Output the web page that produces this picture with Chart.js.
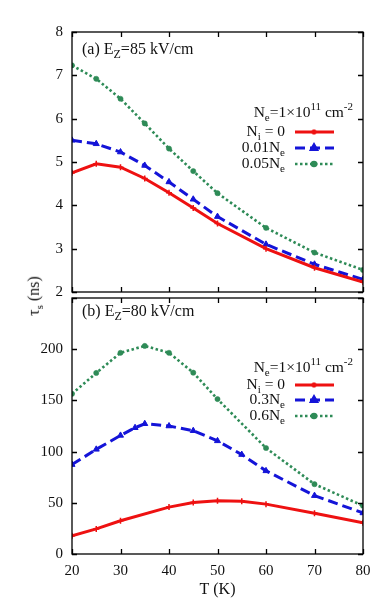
<!DOCTYPE html>
<html>
<head>
<meta charset="utf-8">
<script src="https://cdn.jsdelivr.net/npm/chart.js@4.4.1/dist/chart.umd.min.js"></script>
<style>
body { margin: 0; background: #fff; width: 382px; height: 614px; position: relative; overflow: hidden; font-family: "Liberation Serif", serif; }
#wa { position: absolute; left: 0; top: 0; }
#wb { position: absolute; left: 0; top: 280px; }
#ylab { position: absolute; left: 35px; top: 296px; transform: translate(-50%, -50%) rotate(-90deg); font-size: 16px; white-space: nowrap; color: #111; }
#ylab sub { font-size: 11px; }
</style>
</head>
<body>
<canvas id="wa" width="382" height="310"></canvas>
<canvas id="wb" width="382" height="334"></canvas>
<div id="ylab">&tau;<sub>s</sub> (ns)</div>
<script>
// panel (a): Ez = 85 kV/cm
const tA = [20, 25, 30, 35, 40, 45, 50, 60, 70, 80];
const niZeroA = [4.75, 4.96, 4.88, 4.62, 4.29, 3.94, 3.58, 3.00, 2.56, 2.23];
const ni001A = [5.50, 5.42, 5.23, 4.92, 4.54, 4.14, 3.74, 3.10, 2.64, 2.29];
const ni005A = [7.23, 6.92, 6.46, 5.89, 5.31, 4.79, 4.28, 3.48, 2.91, 2.51];

// panel (b): Ez = 80 kV/cm
const tRedB = [20, 25, 30, 40, 45, 50, 55, 60, 70, 80];
const niZeroB = [17.8, 24.5, 32.5, 45.8, 50.3, 51.9, 51.6, 48.7, 39.8, 30.6];
const tBlueB = [20, 25, 30, 33, 35, 40, 45, 50, 55, 60, 70, 80];
const ni03B = [87.3, 102.2, 115.8, 123.3, 127.2, 125.0, 120.4, 110.5, 97.1, 81.2, 57.0, 40.1];
const tGreenB = [20, 25, 30, 35, 40, 45, 50, 60, 70, 80];
const ni06B = [156.4, 176.8, 196.5, 203.2, 196.5, 177.1, 151.3, 103.5, 68.2, 47.1];

const tTicks = [20, 30, 40, 50, 60, 70, 80];

const RED = '#ee1111', BLUE = '#1414d8', GREEN = '#2e8b57';
const SERIF = '"Liberation Serif", "Times New Roman", serif';

function pts(xs, ys) { return xs.map((x, i) => ({ x: x, y: ys[i] })); }

function series(xs, ys, color, kind) {
  const s = { data: pts(xs, ys), borderColor: color, backgroundColor: color,
    pointBackgroundColor: color, pointBorderColor: color, borderWidth: 3,
    tension: 0, pointHoverRadius: 0 };
  if (kind === 'solid') { s.pointStyle = 'cross'; s.pointRadius = 3; s.pointBorderWidth = 1.5; }
  if (kind === 'dash') { s.borderDash = [10, 5]; s.pointStyle = 'triangle'; s.pointRadius = 3.5; s.pointBorderWidth = 1; }
  if (kind === 'dot') { s.borderDash = [2.5, 2.5]; s.borderWidth = 2.6; s.pointStyle = 'circle'; s.pointRadius = 2.6; s.pointBorderWidth = 0.5; }
  return s;
}

function rich(ctx, parts, x, y, align, size) {
  const big = size + 'px ' + SERIF, small = Math.round(size * 0.74) + 'px ' + SERIF;
  let w = 0;
  parts.forEach(p => { ctx.font = p[1] ? small : big; w += ctx.measureText(p[0]).width; });
  let cx = align === 'right' ? x - w : x;
  ctx.textBaseline = 'middle';
  ctx.textAlign = 'left';
  ctx.fillStyle = '#111';
  parts.forEach(p => {
    ctx.font = p[1] ? small : big;
    const dy = p[1] === 'sub' ? 5 : p[1] === 'sup' ? -6 : 0;
    ctx.fillText(p[0], cx, y + dy);
    cx += ctx.measureText(p[0]).width;
  });
}

// frame with inward ticks, panel label and legend
const framePlugin = {
  id: 'frame',
  afterDraw(chart, args, o) {
    const { ctx, chartArea: a, scales } = chart;
    const x = scales.x, y = scales.y, tl = 5;
    ctx.save();
    ctx.strokeStyle = '#000';
    ctx.lineWidth = 1.3;
    ctx.strokeRect(a.left, a.top, a.right - a.left, a.bottom - a.top);
    ctx.beginPath();
    x.ticks.forEach(t => {
      const px = Math.round(x.getPixelForValue(t.value)) + 0.5;
      ctx.moveTo(px, a.bottom); ctx.lineTo(px, a.bottom - tl);
      ctx.moveTo(px, a.top); ctx.lineTo(px, a.top + tl);
    });
    y.ticks.forEach(t => {
      const py = Math.round(y.getPixelForValue(t.value)) + 0.5;
      ctx.moveTo(a.left, py); ctx.lineTo(a.left + tl, py);
      ctx.moveTo(a.right, py); ctx.lineTo(a.right - tl, py);
    });
    ctx.stroke();

    rich(ctx, o.label, 82, o.labelY, 'left', 16);
    rich(ctx, o.title, 353, o.rows[0], 'right', 15.5);
    chart.data.datasets.forEach((ds, i) => {
      const ry = o.rows[i + 1];
      rich(ctx, o.names[i], 285, ry, 'right', 15.5);
      ctx.save();
      ctx.strokeStyle = ds.borderColor;
      ctx.lineWidth = ds.borderWidth;
      ctx.setLineDash(ds.borderDash || []);
      ctx.beginPath();
      ctx.moveTo(295, ry); ctx.lineTo(334, ry);
      ctx.stroke();
      ctx.setLineDash([]);
      ctx.fillStyle = ds.borderColor;
      Chart.helpers.drawPoint(ctx, { pointStyle: ds.pointStyle, radius: ds.pointRadius - 0.6,
        rotation: 0, borderWidth: ds.pointBorderWidth }, 314, ry);
      ctx.restore();
    });
    ctx.restore();
  }
};

const neTitle = [['N', ''], ['e', 'sub'], ['=1\u00d710', ''], ['11', 'sup'], [' cm', ''], ['-2', 'sup']];

function makeOptions(p) {
  return {
    responsive: false,
    animation: false,
    layout: { padding: { top: p.top, right: 19, left: 0, bottom: p.bottom } },
    plugins: { legend: { display: false }, tooltip: { enabled: false }, frame: p.frame },
    scales: {
      x: {
        type: 'linear', min: 20, max: 80,
        afterBuildTicks: s => { s.ticks = tTicks.map(v => ({ value: v })); },
        afterFit: s => { s.height = p.xh; },
        grid: { display: false, drawTicks: false },
        border: { display: false },
        ticks: { display: p.xlabels, padding: 8, color: '#111', font: { family: SERIF, size: 15 } },
        title: { display: p.xlabels, text: 'T (K)', color: '#111', padding: { top: 0, bottom: -2 },
          font: { family: SERIF, size: 16 } }
      },
      y: {
        min: p.ymin, max: p.ymax,
        afterBuildTicks: s => { s.ticks = p.yticks.map(v => ({ value: v })); },
        afterFit: s => { s.width = 72; },
        grid: { display: false, drawTicks: false },
        border: { display: false },
        ticks: { padding: 9, color: '#111', font: { family: SERIF, size: 15 },
          callback: v => (p.hideTop && v === p.ymax ? '' : v) }
      }
    }
  };
}

new Chart(document.getElementById('wa'), {
  type: 'line',
  data: { datasets: [
    series(tA, niZeroA, RED, 'solid'),
    series(tA, ni001A, BLUE, 'dash'),
    series(tA, ni005A, GREEN, 'dot')
  ] },
  options: makeOptions({
    top: 32, bottom: 0, xh: 17, xlabels: false, ymin: 2, ymax: 8, hideTop: false,
    yticks: [2, 3, 4, 5, 6, 7, 8],
    frame: {
      label: [['(a) E', ''], ['Z', 'sub'], ['=85 kV/cm', '']], labelY: 50,
      title: neTitle, rows: [113, 132, 148, 164],
      names: [[['N', ''], ['i', 'sub'], [' = 0', '']], [['0.01N', ''], ['e', 'sub']], [['0.05N', ''], ['e', 'sub']]]
    }
  }),
  plugins: [framePlugin]
});

new Chart(document.getElementById('wb'), {
  type: 'line',
  data: { datasets: [
    series(tRedB, niZeroB, RED, 'solid'),
    series(tBlueB, ni03B, BLUE, 'dash'),
    series(tGreenB, ni06B, GREEN, 'dot')
  ] },
  options: makeOptions({
    top: 13, bottom: 17, xh: 43, xlabels: true, ymin: 0, ymax: 250, hideTop: true,
    yticks: [0, 50, 100, 150, 200, 250],
    frame: {
      label: [['(b) E', ''], ['Z', 'sub'], ['=80 kV/cm', '']], labelY: 32,
      title: neTitle, rows: [88, 105, 120, 136],
      names: [[['N', ''], ['i', 'sub'], [' = 0', '']], [['0.3N', ''], ['e', 'sub']], [['0.6N', ''], ['e', 'sub']]]
    }
  }),
  plugins: [framePlugin]
});
</script>
</body>
</html>
